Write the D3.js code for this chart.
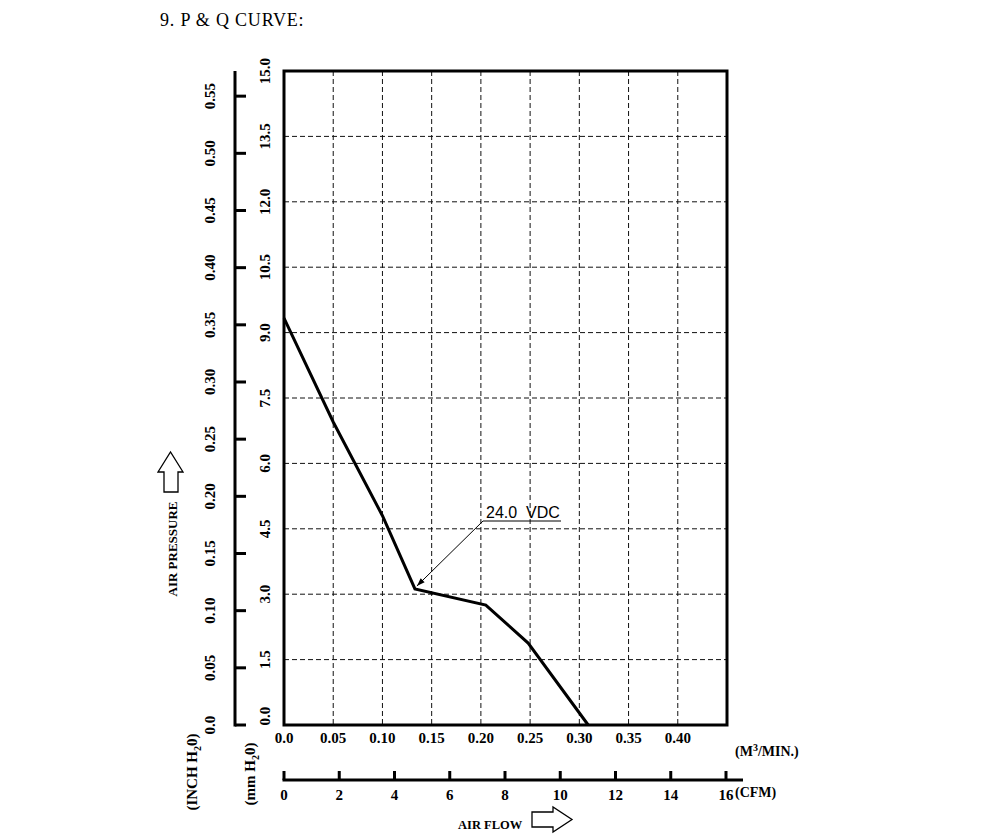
<!DOCTYPE html>
<html><head><meta charset="utf-8">
<script src="https://cdn.jsdelivr.net/npm/d3@7/dist/d3.min.js"></script>
<style>body{margin:0;background:#fff}svg{display:block}</style>
</head><body>
<script>
// ---- data ----
const flowM3 = [0, 0.05, 0.10, 0.133, 0.205, 0.248, 0.309];
const pressureMm = [9.33, 6.95, 4.80, 3.12, 2.75, 1.88, 0];
const xTicks = [0, 0.05, 0.10, 0.15, 0.20, 0.25, 0.30, 0.35, 0.40];
const xTickLabels = ["0.0","0.05","0.10","0.15","0.20","0.25","0.30","0.35","0.40"];
const mmTicks = [0, 1.5, 3, 4.5, 6, 7.5, 9, 10.5, 12, 13.5, 15];
const mmTickLabels = ["0.0","1.5","3.0","4.5","6.0","7.5","9.0","10.5","12.0","13.5","15.0"];
const inchTicks = [0, 0.05, 0.10, 0.15, 0.20, 0.25, 0.30, 0.35, 0.40, 0.45, 0.50, 0.55];
const inchTickLabels = ["0.0","0.05","0.10","0.15","0.20","0.25","0.30","0.35","0.40","0.45","0.50","0.55"];
const cfmTicks = [0, 2, 4, 6, 8, 10, 12, 14, 16];
const annotation = "24.0  VDC";

const W = 1000, H = 838;
const svg = d3.select("body").append("svg").attr("width", W).attr("height", H);
const serif = "'Liberation Serif','DejaVu Serif',serif";

const L = 284, R = 727, T = 71, B = 725;
const x = d3.scaleLinear().domain([0, 0.45]).range([L, R]);
const y = d3.scaleLinear().domain([0, 15]).range([B, T]);
const yIn = d3.scaleLinear().domain([0, 0.572]).range([B, T]);
const cfm = d3.scaleLinear().domain([0, 16]).range([L, 726]);

// title
svg.append("text").attr("x", 160).attr("y", 26).attr("font-family", serif)
  .attr("font-size", 18).attr("letter-spacing", 0.8).text("9. P & Q CURVE:");

// grid
const g = svg.append("g");
g.selectAll("line.vg").data(xTicks.filter(d => d > 0)).join("line")
  .attr("x1", d => x(d)).attr("x2", d => x(d)).attr("y1", T).attr("y2", B)
  .attr("stroke", "#111").attr("stroke-width", 1).attr("stroke-dasharray", "5,3");
g.selectAll("line.hg").data(mmTicks.filter(d => d > 0 && d < 15)).join("line")
  .attr("x1", L).attr("x2", R).attr("y1", d => y(d)).attr("y2", d => y(d))
  .attr("stroke", "#111").attr("stroke-width", 1).attr("stroke-dasharray", "5,3");

// frame
svg.append("rect").attr("x", L).attr("y", T).attr("width", R - L).attr("height", B - T)
  .attr("fill", "none").attr("stroke", "#000").attr("stroke-width", 3);

// curve
const line = d3.line().x((d, i) => x(flowM3[i])).y(d => y(d));
svg.append("path").attr("d", line(pressureMm)).attr("fill", "none")
  .attr("stroke", "#000").attr("stroke-width", 3).attr("stroke-linejoin", "miter");

// annotation
const tipX = x(flowM3[3]) + 2, tipY = y(pressureMm[3]) - 3;
const labX = 483, labY = 521;
svg.append("defs").append("marker").attr("id", "ah").attr("viewBox", "0 0 10 10")
  .attr("refX", 10).attr("refY", 5).attr("markerWidth", 12).attr("markerHeight", 8)
  .attr("markerUnits", "userSpaceOnUse").attr("orient", "auto")
  .append("path").attr("d", "M0,1.5 L10,5 L0,8.5 z").attr("fill", "#000");
svg.append("line").attr("x1", labX).attr("y1", labY).attr("x2", tipX).attr("y2", tipY)
  .attr("stroke", "#000").attr("stroke-width", 1).attr("marker-end", "url(#ah)");
svg.append("line").attr("x1", labX).attr("y1", labY).attr("x2", 561).attr("y2", labY)
  .attr("stroke", "#000").attr("stroke-width", 1);
svg.append("text").attr("x", 486).attr("y", 518).attr("font-family", "'Liberation Sans',Arial,sans-serif")
  .attr("font-size", 16).style("white-space", "pre").text(annotation);

// x tick labels (m3/min)
svg.selectAll("text.xl").data(xTicks).join("text")
  .attr("x", d => x(d)).attr("y", 743).attr("text-anchor", "middle")
  .attr("font-family", serif).attr("font-weight", "bold").attr("font-size", 15)
  .text((d, i) => xTickLabels[i]);
const m3 = svg.append("text").attr("x", 735).attr("y", 756).attr("font-family", serif)
  .attr("font-weight", "bold").attr("font-size", 14);
m3.append("tspan").text("(M");
m3.append("tspan").attr("dy", -5).attr("font-size", 10).text("3");
m3.append("tspan").attr("dy", 5).text("/MIN.)");

// mm tick labels (rotated)
svg.selectAll("text.ml").data(mmTicks).join("text")
  .attr("transform", d => `translate(270,${d === 0 ? y(d) - 9 : y(d)}) rotate(-90)`)
  .attr("text-anchor", "middle").attr("font-family", serif).attr("font-weight", "bold")
  .attr("font-size", 15).text((d, i) => mmTickLabels[i]);

// inch axis
const ax = 235;
svg.append("line").attr("x1", ax).attr("x2", ax).attr("y1", T).attr("y2", B + 1.5)
  .attr("stroke", "#000").attr("stroke-width", 3);
svg.selectAll("line.it").data(inchTicks).join("line")
  .attr("x1", ax).attr("x2", ax + 11).attr("y1", d => yIn(d)).attr("y2", d => yIn(d))
  .attr("stroke", "#000").attr("stroke-width", 3);
svg.selectAll("text.il").data(inchTicks).join("text")
  .attr("transform", d => `translate(215,${yIn(d)}) rotate(-90)`)
  .attr("text-anchor", "middle").attr("font-family", serif).attr("font-weight", "bold")
  .attr("font-size", 15).text((d, i) => inchTickLabels[i]);

// unit labels rotated
function subLabel(tx, ty, pre, post) {
  const t = svg.append("text").attr("transform", `translate(${tx},${ty}) rotate(-90)`)
    .attr("text-anchor", "middle").attr("font-family", serif).attr("font-weight", "bold").attr("font-size", 15);
  t.append("tspan").text(pre);
  t.append("tspan").attr("dy", 4).attr("font-size", 10).text("2");
  t.append("tspan").attr("dy", -4).text(post);
}
subLabel(197, 772, "(INCH H", "0)");
subLabel(255, 774, "(mm H", "0)");

// AIR PRESSURE
svg.append("text").attr("transform", "translate(177,549) rotate(-90)").attr("text-anchor", "middle")
  .attr("font-family", serif).attr("font-weight", "bold").attr("font-size", 13).text("AIR PRESSURE");
svg.append("path").attr("d", "M164,492 L164,472 L158,472 L170.5,452 L183,472 L178,472 L178,492 Z")
  .attr("fill", "#fff").attr("stroke", "#000").attr("stroke-width", 1.3);

// CFM axis
const cy = 780;
svg.append("line").attr("x1", L - 1.5).attr("x2", 743).attr("y1", cy).attr("y2", cy)
  .attr("stroke", "#000").attr("stroke-width", 3);
svg.selectAll("line.ct").data(cfmTicks).join("line")
  .attr("x1", d => cfm(d)).attr("x2", d => cfm(d)).attr("y1", cy).attr("y2", cy - 9)
  .attr("stroke", "#000").attr("stroke-width", 3);
svg.selectAll("text.cl").data(cfmTicks).join("text")
  .attr("x", d => cfm(d)).attr("y", 800).attr("text-anchor", "middle")
  .attr("font-family", serif).attr("font-weight", "bold").attr("font-size", 15).text(d => d);
svg.append("text").attr("x", 735).attr("y", 797).attr("font-family", serif)
  .attr("font-weight", "bold").attr("font-size", 14).text("(CFM)");

// AIR FLOW
svg.append("text").attr("x", 458).attr("y", 829).attr("font-family", serif)
  .attr("font-weight", "bold").attr("font-size", 12.5).text("AIR FLOW");
svg.append("path").attr("d", "M532,812 L553,812 L553,807 L572,819.5 L553,832 L553,827 L532,827 Z")
  .attr("fill", "#fff").attr("stroke", "#000").attr("stroke-width", 1.3);
</script>
</body></html>
